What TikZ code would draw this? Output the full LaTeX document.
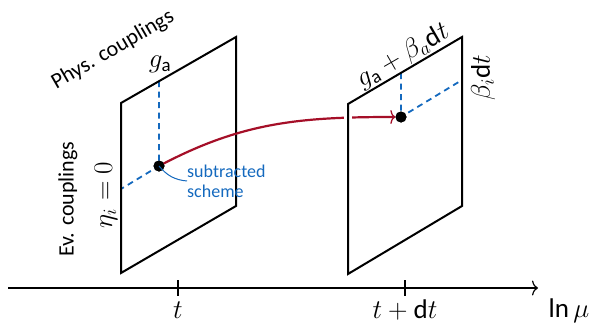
\RequirePackage{fix-cm}
\documentclass[tikz,border=0pt]{standalone}
\usepackage{fontspec}
\setmainfont{Carlito}
\usetikzlibrary{arrows.meta}
\definecolor{myblue}{RGB}{20,105,190}
\definecolor{myred}{RGB}{165,15,40}
\begin{document}
\begin{tikzpicture}[x=1pt,y=-1pt,
  plane/.style={draw=black,line width=2pt,line join=miter},
  guide/.style={draw=myblue,line width=1.8pt,dash pattern=on 6pt off 4.5pt},
  lbl/.style={inner sep=0pt,font=\fontsize{22}{24}\selectfont},
  blbl/.style={inner sep=0pt,font=\fontsize{18}{20}\selectfont,text=myblue,align=left},
  mlbl/.style={inner sep=0pt,font=\fontsize{27}{30}\selectfont},
  dotst/.style={circle,fill=black,inner sep=0pt,minimum size=11pt}]
\useasboundingbox (0,0) rectangle (590,324);
% axis
\coordinate (a0) at (8,288);
\coordinate (a1) at (538,288);
\draw[line width=2.6pt,-{To[length=6pt,width=15pt,line width=1.2pt]}] (a0) -- (a1);
\draw[line width=2.2pt] (178,280) -- (178,296);
\draw[line width=2.2pt] (405,280) -- (405,296);
\node[mlbl,anchor=base] (lt) at (178,318) {$t$};
\node[mlbl,anchor=base] (ltdt) at (405,318) {$t+\mathrm{d}t$};
\node[mlbl,anchor=base] (lmu) at (569,317) {$\ln\mu$};
% left plane
\coordinate (L1) at (121,273);
\coordinate (L2) at (121,103);
\coordinate (L3) at (236,37);
\coordinate (L4) at (236,206);
\coordinate (Ltop) at (159,81);
\coordinate (Lleft) at (121,189);
\node[dotst] (d1) at (159,166) {};
\draw[guide] (Ltop) -- (d1.center) -- (Lleft);
\draw[plane] (L1) -- (L2) -- (L3) -- (L4) -- cycle;
% right plane
\coordinate (R1) at (348,274);
\coordinate (R2) at (348,104);
\coordinate (R3) at (462,37);
\coordinate (R4) at (462,206);
\coordinate (Rtop) at (401,73);
\coordinate (Rright) at (462,80);
\node[dotst] (d2) at (401,117) {};
\draw[guide] (Rtop) -- (d2.center) -- (Rright);
% red trajectory
\draw[myred,line width=2.2pt,-{To[length=5pt,width=14pt,line width=1.3pt]}] (d1.center) to[out=28,in=180] (d2.west);
\draw[white,line width=8pt] (348,111) -- (348,125);
\draw[plane] (R1) -- (R2) -- (R3) -- (R4) -- cycle;
\node[dotst] at (d1) {};
\node[dotst] at (d2) {};
% labels
\node[lbl,rotate=30] (phys) at (113,50) {Phys. couplings};
\node[lbl,rotate=90] (ev) at (68,199) {Ev. couplings};
\node[mlbl] (ga) at (160,64) {$g_{\mathrm{a}}$};
\node[mlbl,rotate=90] (eta) at (106,195) {$\eta_i=0$};
\node[mlbl,rotate=30] (gab) at (403,56) {$g_{\mathrm{a}}+\beta_a\mathrm{d}t$};
\node[mlbl,rotate=90] (bi) at (483,78) {$\beta_i\mathrm{d}t$};
\node[blbl,anchor=west] (sub) at (187,181) {subtracted\\scheme};
\draw[myblue,line width=1pt] (d1.center) to[out=-50,in=175] (sub.west);
\end{tikzpicture}
\end{document}
